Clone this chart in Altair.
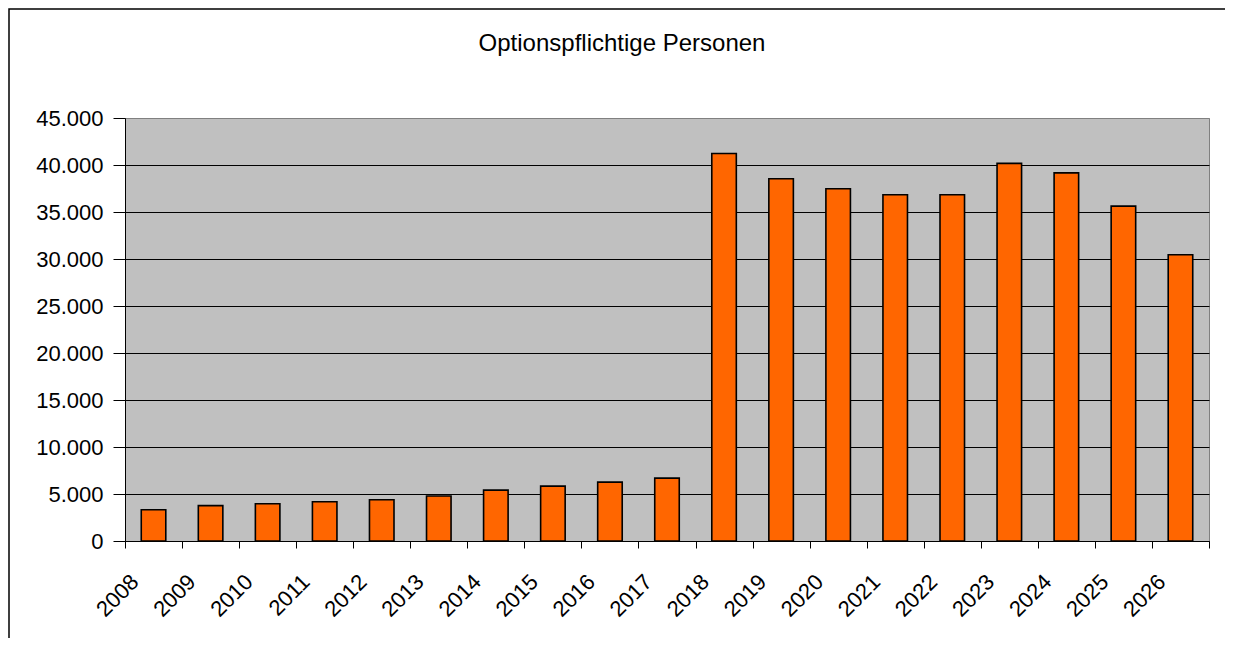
import altair as alt
import pandas as pd

years = [str(y) for y in range(2008, 2027)]
values = [3330, 3760, 3970, 4180, 4390, 4780, 5410, 5840, 6260, 6690,
          41220, 38530, 37470, 36840, 36840, 40170, 39160, 35630, 30450]
y_ticks = [0, 5000, 10000, 15000, 20000, 25000, 30000, 35000, 40000, 45000]
title_text = "Optionspflichtige Personen"

df = pd.DataFrame({"Jahr": years, "Personen": values})

FONT = "Liberation Sans"
W, H = 1084, 423

bars = alt.Chart(df).mark_bar(
    color="#FF6600", stroke="black", strokeWidth=1.6,
    width=alt.RelativeBandSize(0.43)
).encode(
    x=alt.X("Jahr:N", sort=years, title=None,
            scale=alt.Scale(paddingInner=0, paddingOuter=0),
            axis=alt.Axis(tickBand="extent", tickSize=7, tickColor="black",
                          domainColor="black", labelAngle=315, labelAlign="right",
                          labelBaseline="middle", labelFontSize=22, labelFont=FONT,
                          labelColor="black", labelPadding=30, labelOffset=-19,
                          labelOverlap=False, grid=False)),
    y=alt.Y("Personen:Q", title=None,
            scale=alt.Scale(domain=[0, 45000], nice=False),
            axis=alt.Axis(values=y_ticks, tickSize=12, tickColor="black",
                          domainColor="black", labelFontSize=22, labelFont=FONT,
                          labelColor="black", labelPadding=10,
                          labelExpr="replace(format(datum.value, ','), ',', '.')",
                          grid=True,
                          gridColor={"condition": {"test": "datum.value === 45000", "value": "#808080"}, "value": "black"},
                          gridWidth=1))
)

frame = alt.Chart(pd.DataFrame({"a": [0]})).mark_rect(
    fill=None, stroke="black", strokeWidth=1.5
).encode(
    x=alt.value(-116), x2=alt.value(1300), y=alt.value(-109), y2=alt.value(700)
)

chart = alt.layer(frame, bars).properties(
    width=W, height=H,
    title=alt.TitleParams(title_text, fontSize=24, font=FONT, fontWeight="normal",
                          color="black", anchor="middle", dx=-45, offset=-48),
    padding={"left": 117, "top": 110, "right": 16, "bottom": 97},
    autosize=alt.AutoSizeParams(type="none"),
    background="white"
).configure_view(
    fill="#C0C0C0", stroke="#808080", strokeWidth=1
)

chart.save("out.html", embed_options={"renderer": "svg", "actions": False})
